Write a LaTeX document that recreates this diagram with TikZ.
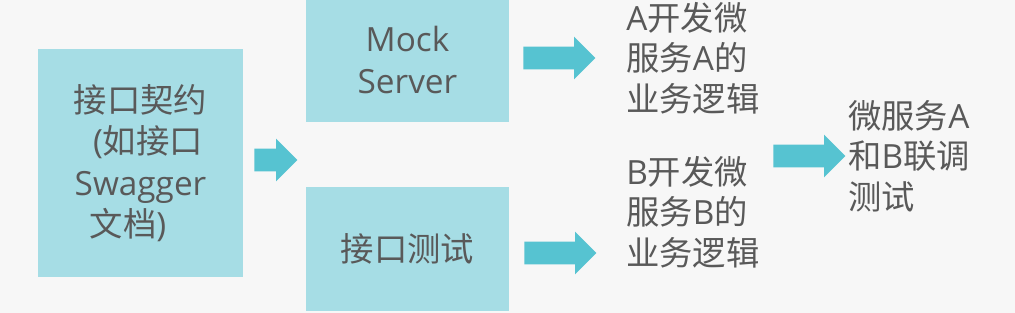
\documentclass[tikz,border=0pt]{standalone}
\usepackage{fontspec}
\setmainfont{Open Sans}
\newfontfamily\cjk{Noto Sans CJK SC}
\usepackage{xcolor}
\usetikzlibrary{positioning, shapes.arrows}

\definecolor{caixaAzul}{HTML}{A6DDE5}
\definecolor{setaAzul}{HTML}{56C3D1}
\definecolor{textoCinza}{HTML}{595959}
\definecolor{fundoCinza}{HTML}{F7F7F7}
\newcommand{\zh}[1]{{\cjk #1}}

\begin{document}
\begin{tikzpicture}[
    x=0.75pt, y=-0.75pt,
    % Estilos padronizados
    caixa/.style={rectangle, fill=caixaAzul, draw=none, align=center, inner sep=0pt, text=textoCinza, font=\fontsize{25}{31}\selectfont},
    rotulo/.style={anchor=west, align=left, inner sep=0pt, text=textoCinza, font=\fontsize{25}{30.5}\selectfont},
    seta/.style={single arrow, anchor=tail, fill=setaAzul, draw=none, inner xsep=0pt, inner ysep=8.25pt, minimum width=31.5pt, single arrow head extend=7.5pt}
]

% ==========================
% FUNDO E LIMITES
% ==========================
\fill[fundoCinza] (0,0) rectangle (1015,313);
\useasboundingbox (0,0) rectangle (1015,313);

% ==========================
% COORDENADAS X DAS COLUNAS
% ==========================
\def\XA{140.5}
\def\XB{407.5}
\def\XC{626}
\def\XD{848}

% ==========================
% CAIXAS
% ==========================
\node[caixa, minimum width=153.75pt, minimum height=171pt] (contrato) at (\XA, 163)
    {\zh{接口契约}\\\rule{0.45em}{0pt}(\zh{如接口}\\Swagger\\\zh{文档})\rule{0.75em}{0pt}};
\node[caixa, minimum width=152.25pt, minimum height=93pt] (mock) at (\XB, 60) {Mock\\Server};
\node[caixa, minimum width=152.25pt, minimum height=93pt] (teste) at (\XB, 249) {\zh{接口测试}};

% ==========================
% TEXTOS
% ==========================
\node[rotulo] (devA) at (\XC, 58) {A\zh{开发微}\\\zh{服务}A\zh{的}\\\zh{业务逻辑}};
\node[rotulo] (devB) at (\XC, 212) {B\zh{开发微}\\\zh{服务}B\zh{的}\\\zh{业务逻辑}};
\node[rotulo] (conjunto) at (\XD, 156) {\zh{微服务}A\\\zh{和}B\zh{联调}\\\zh{测试}};

% ==========================
% SETAS (ancoradas pela cauda)
% ==========================
\node[seta, minimum height=32.25pt] (seta0) at (254, 160) {};
\node[seta, minimum height=54pt] (seta1) at (523, 58) {};
\node[seta, minimum height=54pt] (seta2) at (524, 253) {};
\node[seta, minimum height=54pt] (seta3) at (773, 156) {};

\end{tikzpicture}
\end{document}
